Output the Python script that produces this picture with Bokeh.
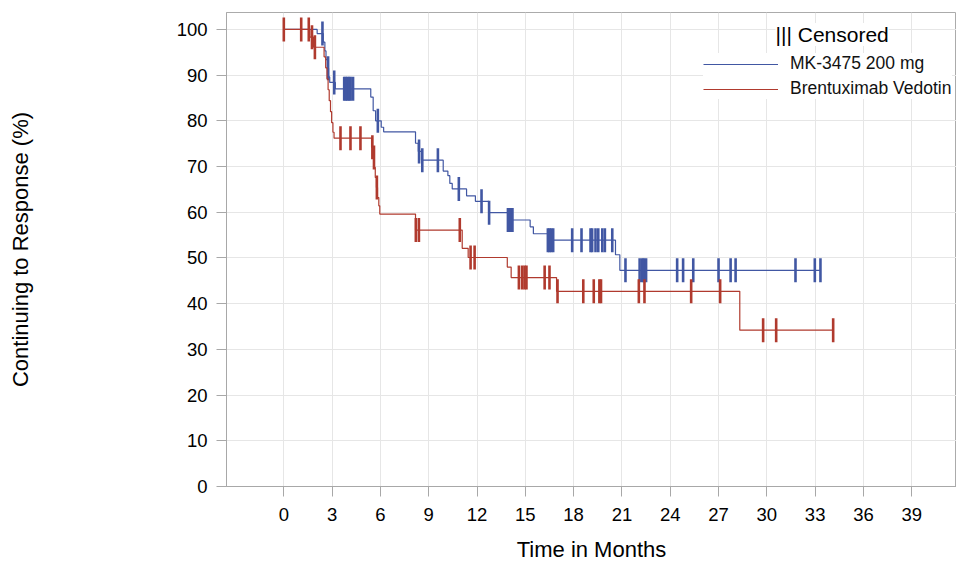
import numpy as np
from bokeh.plotting import figure
from bokeh.models import FixedTicker, Legend, LegendItem, Label, Range1d
from bokeh.embed import file_html
from bokeh.resources import INLINE

# ---------------- data ----------------
x_ticks = [0, 3, 6, 9, 12, 15, 18, 21, 24, 27, 30, 33, 36, 39]
y_ticks = [0, 10, 20, 30, 40, 50, 60, 70, 80, 90, 100]

# MK-3475 200 mg : event times (months) and % continuing after each event
mk_times = [0, 2.07, 2.45, 2.55, 2.62, 2.70, 2.78, 2.85, 3.20, 5.40, 5.55, 5.70,
            6.05, 6.20, 8.18, 8.35, 8.55, 9.90, 10.19, 10.31, 10.46, 11.35, 11.90,
            12.73, 13.90, 15.30, 15.50, 16.40, 20.60, 20.87]
mk_surv = [100, 99.1, 97.2, 95.3, 93.4, 91.5, 89.6, 88.4, 87.0, 85.2, 82.2, 80.0,
           78.6, 77.6, 75.1, 73.3, 71.4, 69.0, 68.0, 66.3, 65.1, 63.6, 62.4,
           59.9, 58.3, 56.8, 55.3, 53.9, 50.7, 47.3]
mk_end = 33.33
mk_censor = [2.40, 2.75, 3.13, 3.75, 3.85, 3.95, 4.05, 4.15, 4.30, 5.84, 8.40, 8.60,
             9.57, 10.87, 12.28, 12.75, 13.92, 14.00, 14.10, 14.20, 16.40, 16.50,
             16.60, 16.73, 17.91, 18.49, 19.05, 19.15, 19.36, 19.53, 19.78, 19.94,
             20.40, 21.22, 22.10, 22.26, 22.36, 22.50, 24.43, 24.80, 25.43, 27.00,
             27.75, 28.06, 31.78, 32.98, 33.33]

# Brentuximab Vedotin
bv_times = [0, 1.62, 1.85, 2.50, 2.60, 2.68, 2.75, 2.82, 2.90, 2.97, 3.05, 3.12,
            5.45, 5.55, 5.62, 5.68, 5.75, 5.82, 5.90, 5.96, 8.18, 11.08, 11.45,
            13.88, 14.12, 16.94, 28.32]
bv_surv = [100, 98.3, 96.1, 94.0, 91.6, 89.2, 86.8, 84.4, 82.0, 79.6, 77.5, 76.2,
           74.2, 72.0, 69.8, 67.6, 65.4, 63.2, 61.4, 59.6, 56.1, 52.1, 50.1,
           48.0, 45.7, 42.7, 34.2]
bv_end = 34.12
bv_censor = [0.0, 1.08, 1.55, 1.75, 1.93, 3.52, 4.14, 4.76, 5.50, 5.60, 5.78, 8.20,
             8.39, 10.93, 11.60, 11.85, 14.60, 14.80, 14.95, 15.07, 16.20, 16.50,
             17.00, 18.60, 19.25, 19.60, 19.70, 22.05, 22.40, 25.30, 27.10, 29.77,
             30.58, 34.12]

BLUE = "#4157A3"
RED = "#B03A2E"
FONT = "Liberation Sans"


def level_at(times, surv, t):
    idx = np.searchsorted(np.asarray(times), np.asarray(t), side="right") - 1
    return np.asarray(surv)[idx]


p = figure(width=956, height=564, output_backend="svg", toolbar_location=None,
           x_range=Range1d(-3.56, 41.78), y_range=Range1d(0, 103.7),
           min_border_left=226, min_border_right=0, min_border_top=12,
           min_border_bottom=78)

p.background_fill_color = "white"
p.border_fill_color = "white"
p.outline_line_color = "#ABABAB"

lines = {}
for name, times, surv, end, cens, col in [
        ("MK-3475 200 mg", mk_times, mk_surv, mk_end, mk_censor, BLUE),
        ("Brentuximab Vedotin", bv_times, bv_surv, bv_end, bv_censor, RED)]:
    xs = list(times) + [end]
    ys = list(surv) + [surv[-1]]
    r = p.step(xs, ys, mode="after", line_color=col, line_width=1.2)
    lines[name] = r
    p.scatter(cens, level_at(times, surv, cens), marker="dash", angle=np.pi / 2,
              size=24, line_color=col, line_width=2.6)

# axes
for ax in (p.xaxis, p.yaxis):
    ax.axis_line_color = "#A8A8A8"
    ax.major_tick_line_color = "#A8A8A8"
    ax.major_tick_out = 10
    ax.major_tick_in = 0
    ax.minor_tick_line_color = None
    ax.major_label_text_font = FONT
    ax.major_label_text_font_size = "18.5px"
    ax.major_label_text_color = "black"
    ax.axis_label_text_font = FONT
    ax.axis_label_text_font_size = "22px"
    ax.axis_label_text_font_style = "normal"
    ax.axis_label_text_color = "black"

p.xaxis.ticker = FixedTicker(ticks=x_ticks)
p.yaxis.ticker = FixedTicker(ticks=y_ticks)
p.xaxis.axis_label = "Time in Months"
p.yaxis.axis_label = "Continuing to Response (%)"
p.xaxis.major_label_standoff = 11
p.yaxis.major_label_standoff = 9
p.xaxis.axis_label_standoff = 13
p.yaxis.axis_label_standoff = 141

p.xgrid.grid_line_color = "#E6E6E6"
p.ygrid.grid_line_color = "#E6E6E6"

legend = Legend(items=[LegendItem(label="MK-3475 200 mg", renderers=[lines["MK-3475 200 mg"]]),
                       LegendItem(label="Brentuximab Vedotin", renderers=[lines["Brentuximab Vedotin"]])],
                location=(477, 387), glyph_width=75, glyph_height=20, label_height=20,
                spacing=4, padding=6, margin=0, border_line_color=None,
                background_fill_color="white", background_fill_alpha=1.0,
                label_text_font=FONT, label_text_font_size="17.5px", label_standoff=12,
                label_text_color="#111111")
p.add_layout(legend)

title = Label(x=30.54, y=98.9, text="||| Censored", text_font=FONT, text_font_size="21px",
              text_baseline="middle", text_color="black",
              background_fill_color="white", background_fill_alpha=1.0)
p.add_layout(title)

open("out.html", "w").write(file_html(p, INLINE))
